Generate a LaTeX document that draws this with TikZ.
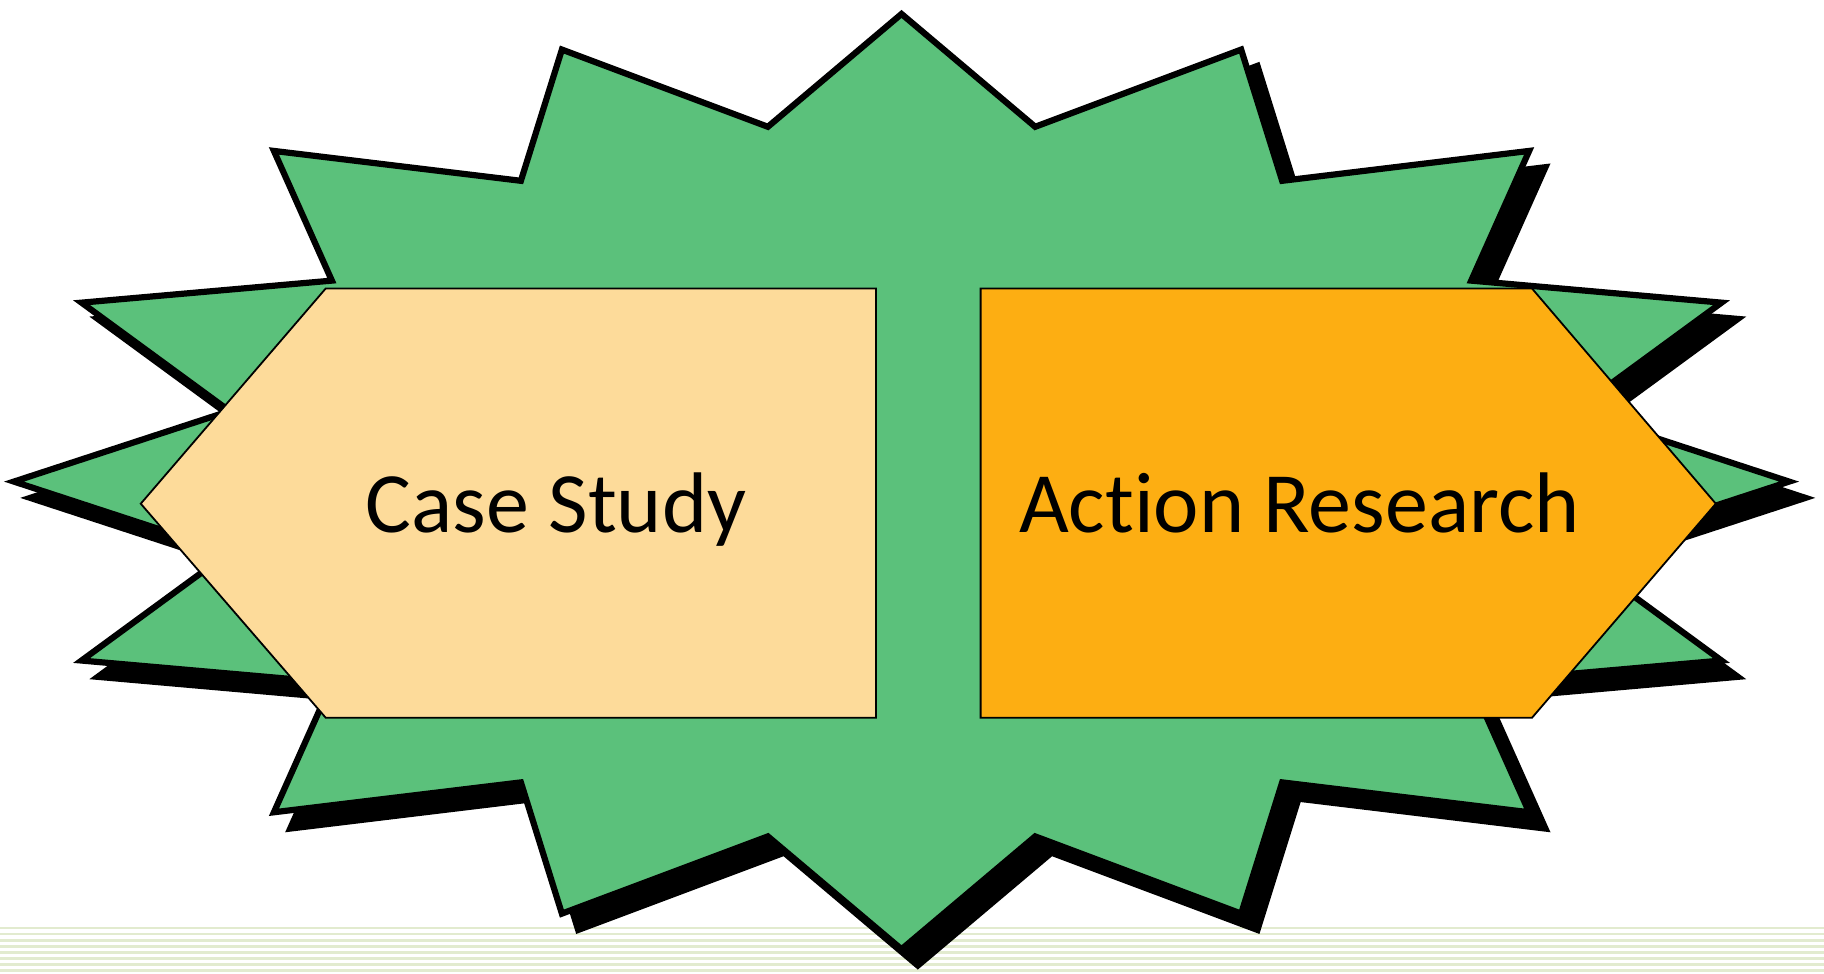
\documentclass[tikz,border=0pt]{standalone}
\usepackage{fontspec}
\setmainfont{Carlito}[Ligatures=NoCommon]
\definecolor{stargreen}{HTML}{5BC17B}
\definecolor{peach}{HTML}{FDDB9A}
\definecolor{amber}{HTML}{FDAE12}
\definecolor{stripe}{HTML}{E2EBCF}
\begin{document}
\begin{tikzpicture}[x=0.58163pt,y=-0.58163pt,
  starshape/.style={line width=3.1pt,line join=miter,miter limit=12},
  boxshape/.style={draw=black,line width=0.9pt,line join=miter},
  label/.style={font=\fontsize{43pt}{50pt}\selectfont,anchor=base,inner sep=0pt}]
\useasboundingbox (0,0) rectangle (1568,837);
% background stripes
\foreach \i in {0,...,7}{
  \draw[stripe,line width=1.2pt] (0,{798+\i*5.16}) -- (1568,{798+\i*5.16});
}
% shadow
\filldraw[starshape,fill=black,draw=black]
  plot[samples at={0,...,31},variable=\k]
  ({789+(mod(\k,2)==0 ? 763 : 589)*sin(\k*11.25)},{428-(mod(\k,2)==0 ? 402 : 311)*cos(\k*11.25)}) -- cycle;
% star
\filldraw[starshape,fill=stargreen,draw=black]
  plot[samples at={0,...,31},variable=\k]
  ({775+(mod(\k,2)==0 ? 763 : 589)*sin(\k*11.25)},{414-(mod(\k,2)==0 ? 402 : 311)*cos(\k*11.25)}) -- cycle;
% pentagons
\filldraw[boxshape,fill=peach] (121,433) -- (280,248) -- (753,248) -- (753,617) -- (280,617) -- cycle;
\filldraw[boxshape,fill=amber] (843,248) -- (1317,248) -- (1475,433) -- (1317,617) -- (843,617) -- cycle;
\node[label] (cs) at (478,458) {Case Study};
\node[label] (ar) at (1117,458) {Action Research};
\end{tikzpicture}
\end{document}
